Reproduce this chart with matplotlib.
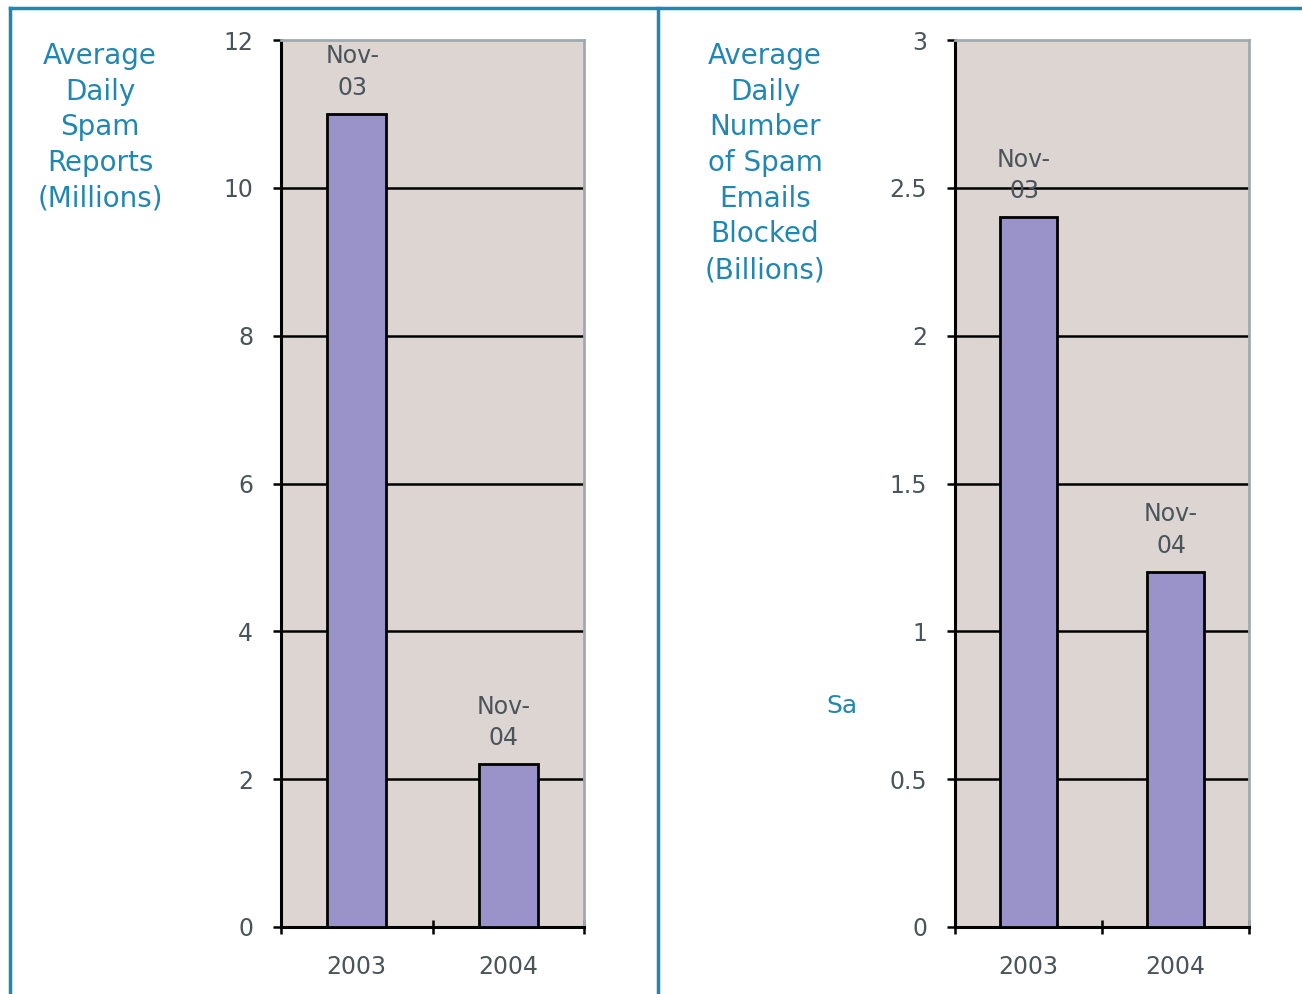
import numpy as np
import matplotlib.pyplot as plt
from matplotlib.lines import Line2D

plt.rcParams['font.family'] = ['DejaVu Sans']

years = ['2003', '2004']
bar_labels = ['Nov-\n03', 'Nov-\n04']
reports = [11.0, 2.2]          # millions
blocked = [2.4, 1.2]           # billions
left_title = 'Average\nDaily\nSpam\nReports\n(Millions)'
right_title = 'Average\nDaily\nNumber\nof Spam\nEmails\nBlocked\n(Billions)'

W, H = 1302, 994
blue = '#2287b0'
tick_col = '#4a555b'
bg = '#dcd5d2'
bar_col = '#9a93c9'

fig = plt.figure(figsize=(W / 100, H / 100), dpi=100)
fig.patch.set_facecolor('white')


def panel(rect, values, ymax, step, fmt):
    ax = fig.add_axes(rect)
    x = np.arange(len(values))
    ax.set_facecolor(bg)
    ax.bar(x, values, width=0.39, color=bar_col, edgecolor='black', linewidth=2, zorder=3)
    for xi, v, lab in zip(x, values, bar_labels):
        ax.text(xi - 0.03, v + ymax * 0.016, lab, ha='center', va='bottom',
                fontsize=17, color=tick_col, linespacing=1.4, zorder=4)
    ax.set_xlim(-0.5, len(values) - 0.5)
    ax.set_ylim(0, ymax)
    yt = np.arange(0, ymax + step / 2, step)
    ax.set_yticks(yt)
    ax.set_yticklabels([fmt(v) for v in yt])
    for v in yt[1:-1]:
        ax.axhline(v, color='black', linewidth=1.8, zorder=1)
    ax.set_xticks(np.arange(-0.5, len(values)), minor=True)
    ax.set_xticks(x)
    ax.set_xticklabels(years)
    ax.tick_params(axis='x', which='major', length=0, pad=20, labelsize=17, labelcolor=tick_col)
    ax.tick_params(axis='x', which='minor', length=10, width=1.8, direction='inout')
    ax.tick_params(axis='y', length=6, width=1.8, pad=14, labelsize=17, labelcolor=tick_col)
    for s in ['top', 'right']:
        ax.spines[s].set_color('#a0aab0')
        ax.spines[s].set_linewidth(2)
    for s in ['left', 'bottom']:
        ax.spines[s].set_color('black')
        ax.spines[s].set_linewidth(2.2)
    return ax


panel([281 / W, 1 - 927 / H, 303 / W, 887 / H], reports, 12, 2, lambda v: '%d' % v)
panel([955 / W, 1 - 927 / H, 294 / W, 887 / H], blocked, 3, 0.5, lambda v: ('%g' % v))

fig.text(100 / W, 1 - 42 / H, left_title, ha='center', va='top', fontsize=20,
         color=blue, linespacing=1.35)
fig.text(765 / W, 1 - 42 / H, right_title, ha='center', va='top', fontsize=20,
         color=blue, linespacing=1.35)
fig.text(826 / W, 1 - 706 / H, 'Sa', ha='left', va='center', fontsize=18, color=blue)

# frame lines
fig.add_artist(Line2D([10 / W, 1], [1 - 8 / H, 1 - 8 / H], color=blue, linewidth=2.5))
fig.add_artist(Line2D([10 / W, 10 / W], [0, 1 - 8 / H], color=blue, linewidth=2.5))
fig.add_artist(Line2D([658 / W, 658 / W], [0, 1 - 8 / H], color=blue, linewidth=2.5))

fig.savefig('out.png', dpi=100)
